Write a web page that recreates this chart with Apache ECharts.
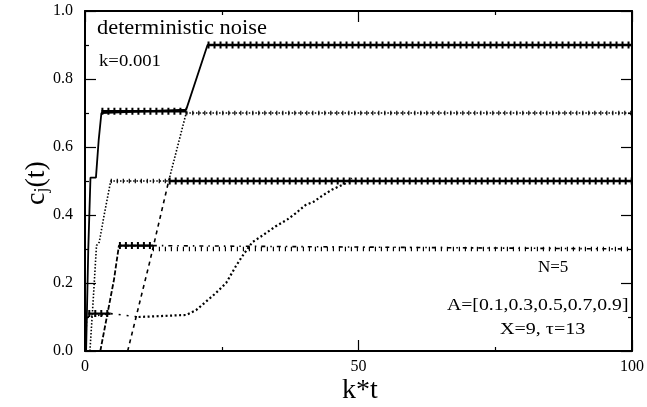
<!DOCTYPE html>
<html>
<head>
<meta charset="utf-8">
<script src="https://cdn.jsdelivr.net/npm/echarts@6/dist/echarts.min.js"></script>
<style>
html,body{margin:0;padding:0;background:#fff;}
#chart{width:647px;height:407px;}
</style>
</head>
<body>
<div id="chart"></div>
<script>
// ---- tick values ----
const xTicks = [0, 50, 100];
const yTicks = [0, 0.2, 0.4, 0.6, 0.8, 1.0];

// ---- curves (x = k*t, y = c_j(t)) ----
const curveSolid = [[0.2,0],[0.6,0.30],[1.0,0.51],[2.0,0.51],[2.5,0.62],[3.0,0.70],[18.5,0.71],[22.4,0.90],[100,0.90]];
const curveDotted = [[0.9,0],[1.5,0.15],[2.1,0.31],[2.6,0.32],[3.5,0.40],[4.7,0.50],[15.3,0.50],[18.5,0.70],[100,0.70]];
const curveDashedRise = [[2.8,0],[5.3,0.21],[6.2,0.31],[12.4,0.31]];
const curveDashedTail = [[12.4,0.31],[100,0.30]];
const curveDashDot = [[7.8,0],[11.8,0.26],[15.3,0.50],[100,0.50]];
const curveSlowStart = [[0.1,0],[0.3,0.10],[4.7,0.11]];
const curveSlowSparse = [[4.7,0.11],[9.8,0.10]];
const curveSlowRise = [[9.8,0.10],[18.5,0.106],[20.3,0.12],[22.1,0.145],[23.9,0.17],[25.8,0.20],[27.6,0.25],[28.8,0.28],[30.6,0.32],[32.1,0.336],[34.8,0.366],[37.0,0.387],[38.5,0.405],[40.3,0.429],[41.8,0.439],[43.6,0.459],[45.2,0.475],[47.6,0.493],[48.8,0.508]];

// ---- noisy plateaus: [x start, x end, level] ----
const thickNoise = [[3.0,18.5,0.705],[22.4,100,0.90],[15.3,100,0.50],[6.2,12.4,0.31],[0.6,4.7,0.11]];
const lightNoise = [[4.7,15.3,0.50],[18.5,100,0.70],[12.4,100,0.30]];

const FONT = '"Liberation Serif", "DejaVu Serif", serif';

function lineSeries(data, width, type, z) {
  return {
    type: 'line', data: data, showSymbol: false, symbol: 'none', animation: false,
    lineStyle: { color: '#000', width: width, type: type, cap: 'butt' },
    z: z || 2, silent: true
  };
}

const series = [
  lineSeries(curveSolid, 1.8, 'solid'),
  lineSeries(curveDotted, 1.6, [1.5, 1.8]),
  lineSeries(curveDashedRise, 1.8, [5, 2]),
  lineSeries(curveDashedTail, 1.6, [4, 5, 1.5, 5]),
  lineSeries(curveDashDot, 1.6, [4, 4]),
  lineSeries(curveSlowStart, 1.6, [1.5, 2]),
  lineSeries(curveSlowSparse, 1.6, [2, 6]),
  lineSeries(curveSlowRise, 2.2, [2, 2.5])
];
thickNoise.forEach(function (s) {
  const d = [[s[0], s[2]], [s[1], s[2]]];
  series.push(lineSeries(d, 2.4, 'solid', 3));
  series.push(lineSeries(d, 7, [2, 4], 3));
});
lightNoise.forEach(function (s) {
  const d = [[s[0], s[2]], [s[1], s[2]]];
  series.push(lineSeries(d, 4.5, [1.2, 4.8], 3));
});

function axisCommon(extra) {
  return Object.assign({
    type: 'value',
    axisLine: { show: true, onZero: false, lineStyle: { color: '#000', width: 2 } },
    axisTick: { show: true, inside: true, length: 11, lineStyle: { color: '#000', width: 1.2 } },
    minorTick: { show: true, splitNumber: 2, length: 4, lineStyle: { color: '#000', width: 1.2 } },
    splitLine: { show: false },
    minorSplitLine: { show: false }
  }, extra);
}

const xMin = xTicks[0], xMax = xTicks[xTicks.length - 1], xInt = xTicks[1] - xTicks[0];
const yMin = yTicks[0], yMax = yTicks[yTicks.length - 1], yInt = yTicks[1] - yTicks[0];

const option = {
  backgroundColor: '#fff',
  animation: false,
  grid: { left: 85, right: 12, top: 11, bottom: 56, containLabel: false },
  xAxis: [
    axisCommon({ position: 'bottom', min: xMin, max: xMax, interval: xInt,
      axisLabel: { show: true, color: '#000', fontFamily: FONT, fontSize: 16, margin: 8 } }),
    axisCommon({ position: 'top', min: xMin, max: xMax, interval: xInt, axisLabel: { show: false } })
  ],
  yAxis: [
    axisCommon({ position: 'left', min: yMin, max: yMax, interval: yInt,
      axisLabel: { show: true, color: '#000', fontFamily: FONT, fontSize: 16, margin: 12,
        formatter: function (v) { return v.toFixed(1); } } }),
    axisCommon({ position: 'right', min: yMin, max: yMax, interval: yInt, axisLabel: { show: false } })
  ],
  series: series,
  graphic: [
    { type: 'text', x: 97, y: 29, scaleX: 1.12, style: { text: 'deterministic noise', font: '20px ' + FONT, fill: '#000', textAlign: 'left', textVerticalAlign: 'middle' } },
    { type: 'text', x: 99, y: 62, scaleX: 1.1, style: { text: 'k=0.001', font: '17px ' + FONT, fill: '#000', textAlign: 'left', textVerticalAlign: 'middle' } },
    { type: 'text', x: 538, y: 268, scaleX: 1.0, style: { text: 'N=5', font: '17px ' + FONT, fill: '#000', textAlign: 'left', textVerticalAlign: 'middle' } },
    { type: 'text', x: 447, y: 306, scaleX: 1.16, style: { text: 'A=[0.1,0.3,0.5,0.7,0.9]', font: '17px ' + FONT, fill: '#000', textAlign: 'left', textVerticalAlign: 'middle' } },
    { type: 'text', x: 500, y: 330, scaleX: 1.18, style: { text: 'X=9, \u03c4=13', font: '17px ' + FONT, fill: '#000', textAlign: 'left', textVerticalAlign: 'middle' } },
    { type: 'text', x: 360, y: 391, style: { text: 'k*t', font: '28px ' + FONT, fill: '#000', textAlign: 'center', textVerticalAlign: 'middle' } },
    { type: 'text', x: 36, y: 183, rotation: Math.PI / 2,
      style: { text: '{c|c}{j|j}{c|(t)}', fill: '#000', textAlign: 'center', textVerticalAlign: 'middle',
        rich: { c: { font: '28px ' + FONT, fill: '#000', verticalAlign: 'bottom' }, j: { font: '18px ' + FONT, fill: '#000', padding: [12, 0, 0, 0], verticalAlign: 'bottom' } } } }
  ]
};

const chart = echarts.init(document.getElementById('chart'), null, { renderer: 'canvas' });
chart.setOption(option);
</script>
</body>
</html>
